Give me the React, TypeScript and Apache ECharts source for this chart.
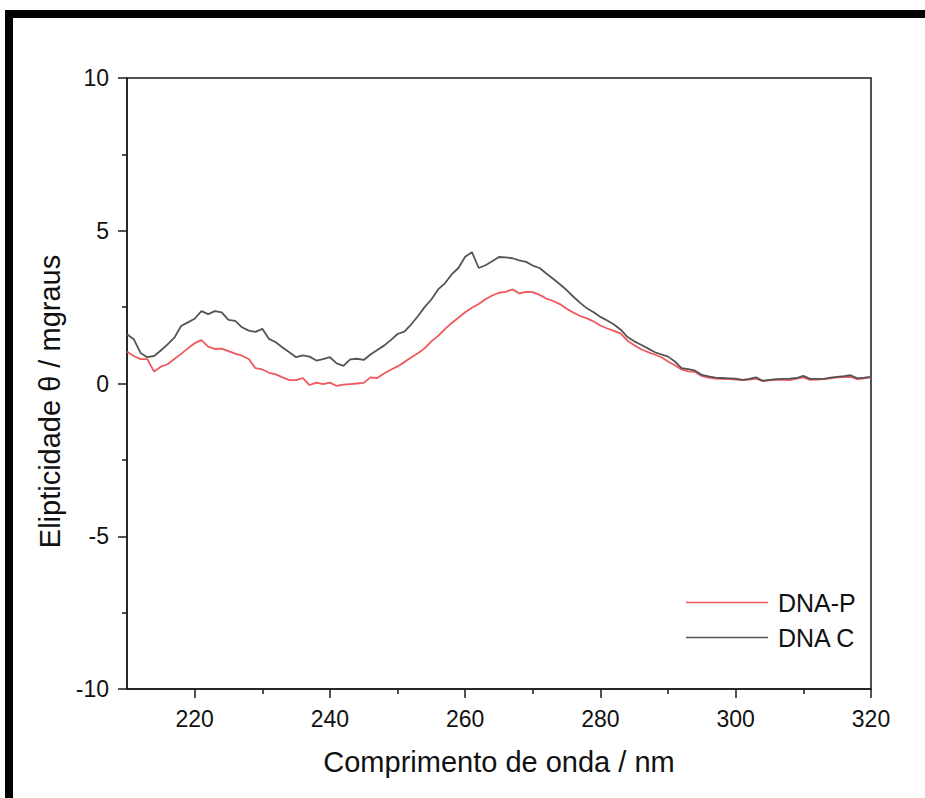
import React, { useEffect, useRef } from "react";
import * as echarts from "echarts";

const wavelengths = [
  210, 211, 212, 213, 214, 215, 216, 217, 218, 219,
  220, 221, 222, 223, 224, 225, 226, 227, 228, 229,
  230, 231, 232, 233, 234, 235, 236, 237, 238, 239,
  240, 241, 242, 243, 244, 245, 246, 247, 248, 249,
  250, 251, 252, 253, 254, 255, 256, 257, 258, 259,
  260, 261, 262, 263, 264, 265, 266, 267, 268, 269,
  270, 271, 272, 273, 274, 275, 276, 277, 278, 279,
  280, 281, 282, 283, 284, 285, 286, 287, 288, 289,
  290, 291, 292, 293, 294, 295, 296, 297, 298, 299,
  300, 301, 302, 303, 304, 305, 306, 307, 308, 309,
  310, 311, 312, 313, 314, 315, 316, 317, 318, 319,
  320,
];

const dnaC = [
  1.61, 1.45, 1.0, 0.86, 0.9, 1.08, 1.28, 1.5, 1.88, 2.0,
  2.12, 2.37, 2.27, 2.37, 2.33, 2.08, 2.05, 1.84, 1.73, 1.69,
  1.79, 1.46, 1.35, 1.18, 1.02, 0.86, 0.92, 0.88, 0.75, 0.8,
  0.86, 0.66, 0.58, 0.79, 0.81, 0.77, 0.95, 1.1, 1.24, 1.42,
  1.62, 1.7, 1.93, 2.2, 2.5, 2.75, 3.08, 3.28, 3.57, 3.78,
  4.15, 4.3, 3.78, 3.87, 4.0, 4.14, 4.13, 4.1, 4.03, 3.98,
  3.86, 3.78, 3.6, 3.43, 3.25, 3.06, 2.84, 2.64, 2.46, 2.33,
  2.18, 2.06, 1.93, 1.76, 1.52, 1.38, 1.27, 1.15, 1.03, 0.95,
  0.88, 0.72, 0.5, 0.47, 0.42, 0.28, 0.23, 0.19, 0.18, 0.17,
  0.16, 0.12, 0.15, 0.2, 0.09, 0.12, 0.14, 0.15, 0.16, 0.18,
  0.25, 0.15, 0.15, 0.15, 0.19, 0.22, 0.24, 0.27, 0.17, 0.19,
  0.22,
];

const dnaP = [
  1.04, 0.9, 0.8, 0.8, 0.39, 0.55, 0.63, 0.8, 0.97, 1.15,
  1.32, 1.42, 1.21, 1.13, 1.14, 1.06, 0.98, 0.91, 0.8, 0.5,
  0.46, 0.35, 0.3, 0.2, 0.11, 0.11, 0.18, -0.05, 0.03, -0.02,
  0.03, -0.08, -0.04, -0.02, 0.0, 0.02, 0.2, 0.18, 0.33, 0.45,
  0.56, 0.7, 0.85, 0.99, 1.15, 1.38, 1.56, 1.78, 1.98, 2.15,
  2.33, 2.48, 2.6, 2.76, 2.88, 2.97, 3.0, 3.08, 2.95, 3.0,
  2.99, 2.9, 2.78, 2.7, 2.6, 2.45, 2.32, 2.21, 2.13, 2.03,
  1.9, 1.8, 1.72, 1.63, 1.4, 1.25, 1.12, 1.03, 0.95, 0.86,
  0.72, 0.6, 0.46, 0.4, 0.38, 0.24, 0.19, 0.16, 0.15, 0.14,
  0.13, 0.11, 0.13, 0.16, 0.08, 0.1, 0.12, 0.13, 0.11, 0.16,
  0.2, 0.12, 0.13, 0.14, 0.17, 0.2, 0.21, 0.22, 0.14, 0.17,
  0.2,
];

const xMajorTicks = [220, 240, 260, 280, 300, 320];
const xMinorTicks = [230, 250, 270, 290, 310];
const seriesNames = ["DNA-P", "DNA C"];
const xTitle = "Comprimento de onda / nm";
const yTitle = "Elipticidade θ / mgraus";

const FONT = "'Liberation Sans', Arial, Helvetica, sans-serif";
const AXIS_COLOR = "#1a1a1a";

export default function App() {
  const ref = useRef<HTMLDivElement>(null);

  useEffect(() => {
    document.body.style.margin = "0";
    if (!ref.current) return;
    const chart = echarts.init(ref.current, null, { renderer: "svg" });

    const pairs = (vals: number[]) => wavelengths.map((w, i) => [w, vals[i]]);

    chart.setOption({
      animation: false,
      backgroundColor: "#ffffff",
      textStyle: { fontFamily: FONT },
      grid: {
        left: 127,
        right: 54,
        top: 78,
        bottom: 109,
        show: true,
        borderColor: AXIS_COLOR,
        borderWidth: 1.5,
        backgroundColor: "transparent",
      },
      legend: {
        orient: "vertical",
        left: 686,
        top: 590,
        icon: "rect",
        itemWidth: 82,
        itemHeight: 1.6,
        itemGap: 10,
        padding: 0,
        data: seriesNames,
        textStyle: {
          fontSize: 25,
          color: "#111",
          fontFamily: FONT,
          padding: [0, 0, 0, 5],
        },
      },
      xAxis: [
        {
          type: "value",
          min: 210,
          max: 320,
          interval: 10,
          position: "bottom",
          name: xTitle,
          nameLocation: "middle",
          nameGap: 58,
          nameTextStyle: { fontSize: 29, color: "#111", fontFamily: FONT },
          axisLine: { show: true, onZero: false, lineStyle: { color: AXIS_COLOR, width: 1.5 } },
          axisTick: {
            show: true,
            length: 9,
            customValues: xMajorTicks,
            lineStyle: { color: AXIS_COLOR, width: 1.5 },
          },
          axisLabel: {
            customValues: xMajorTicks,
            margin: 18,
            fontSize: 23,
            color: "#111",
            fontFamily: FONT,
          },
          splitLine: { show: false },
        },
        {
          type: "value",
          min: 210,
          max: 320,
          interval: 10,
          position: "bottom",
          axisLine: { show: false, onZero: false },
          axisTick: {
            show: true,
            length: 5,
            customValues: xMinorTicks,
            lineStyle: { color: AXIS_COLOR, width: 1.5 },
          },
          axisLabel: { show: false },
          splitLine: { show: false },
        },
      ],
      yAxis: {
        type: "value",
        min: -10,
        max: 10,
        interval: 5,
        name: yTitle,
        nameLocation: "middle",
        nameGap: 58,
        nameTextStyle: { fontSize: 29, color: "#111", fontFamily: FONT, padding: [0, 36, 0, 0] },
        axisLine: { show: true, onZero: false, lineStyle: { color: AXIS_COLOR, width: 1.5 } },
        axisTick: { show: true, length: 9, lineStyle: { color: AXIS_COLOR, width: 1.5 } },
        minorTick: { show: true, splitNumber: 2, length: 5, lineStyle: { color: AXIS_COLOR, width: 1.5 } },
        axisLabel: { margin: 18, fontSize: 23, color: "#111", fontFamily: FONT },
        splitLine: { show: false },
      },
      series: [
        {
          name: seriesNames[0],
          type: "line",
          data: pairs(dnaP),
          symbol: "none",
          lineStyle: { color: "#f0585c", width: 1.8 },
          itemStyle: { color: "#f0585c" },
        },
        {
          name: seriesNames[1],
          type: "line",
          data: pairs(dnaC),
          symbol: "none",
          lineStyle: { color: "#555555", width: 1.8 },
          itemStyle: { color: "#555555" },
        },
      ],
      graphic: [
        { type: "rect", shape: { x: 5, y: 10, width: 920, height: 8 }, style: { fill: "#000" }, silent: true },
        { type: "rect", shape: { x: 5, y: 10, width: 8, height: 788 }, style: { fill: "#000" }, silent: true },
      ],
    });

    return () => chart.dispose();
  }, []);

  return <div ref={ref} style={{ width: 925, height: 798, background: "#fff" }} />;
}
